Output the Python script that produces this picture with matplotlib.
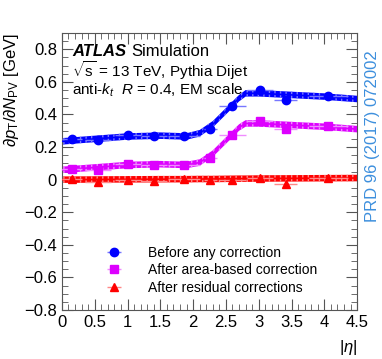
import matplotlib
matplotlib.use("Agg")
import matplotlib.pyplot as plt
from matplotlib.ticker import MultipleLocator, FuncFormatter

plt.rcParams['font.family'] = ['Liberation Sans', 'DejaVu Sans']
plt.rcParams['mathtext.fontset'] = 'custom'
plt.rcParams['mathtext.rm'] = 'Liberation Sans'
plt.rcParams['mathtext.it'] = 'Liberation Sans:italic'

# puntos medidos (|eta|, pendiente)
eta = [0.15, 0.55, 1.01, 1.40, 1.86, 2.26, 2.60, 3.02, 3.41, 4.06]
eta_err = [0.15, 0.2, 0.2, 0.2, 0.25, 0.1, 0.2, 0.2, 0.17, 0.3]
before = [0.250, 0.242, 0.277, 0.267, 0.271, 0.312, 0.455, 0.548, 0.488, 0.513]
area = [0.068, 0.057, 0.097, 0.088, 0.092, 0.133, 0.273, 0.359, 0.312, 0.328]
residual = [0.005, -0.014, 0.000, -0.008, 0.003, -0.002, 0.000, 0.012, -0.025, 0.008]

# bandas del ajuste
band_eta = [0.0, 0.5, 1.0, 1.5, 1.9, 2.1, 2.3, 2.5, 2.7, 2.8, 3.0, 3.5, 4.0, 4.5]
band_before = [0.235, 0.25, 0.265, 0.27, 0.265, 0.285, 0.34, 0.42, 0.50, 0.53, 0.53, 0.52, 0.51, 0.495]
band_area = [0.06, 0.075, 0.09, 0.095, 0.09, 0.105, 0.16, 0.24, 0.32, 0.345, 0.345, 0.335, 0.325, 0.31]
band_resid = [0.0, 0.001, 0.002, 0.003, 0.003, 0.004, 0.004, 0.005, 0.006, 0.006, 0.007, 0.008, 0.009, 0.01]
band_width = 0.02

series = [
    ("Before any correction", before, band_before, "#0000ff", "#7777ff", "o"),
    ("After area-based correction", area, band_area, "#dd00ff", "#f08cff", "s"),
    ("After residual corrections", residual, band_resid, "#ff0000", "#ff8888", "^"),
]

fig = plt.figure(figsize=(3.82, 3.59), dpi=100)
ax = fig.add_axes([0.162, 0.1365, 0.773, 0.7715])

for label, vals, band, col, light, mk in series:
    lo = [b - band_width for b in band]
    hi = [b + band_width for b in band]
    ax.fill_between(band_eta, lo, hi, facecolor=col, edgecolor=light,
                    hatch='|||', linewidth=0, zorder=2)
    ax.plot(band_eta, band, color=col, lw=1.2, zorder=3)
    ax.errorbar(eta, vals, xerr=eta_err, fmt=mk, color=col, ecolor=light,
                elinewidth=1.0, markersize=6, capsize=0, label=label, zorder=4)

ax.set_xlim(0, 4.5)
ax.set_ylim(-0.8, 0.9)
ax.xaxis.set_major_locator(MultipleLocator(0.5))
ax.xaxis.set_minor_locator(MultipleLocator(0.1))
ax.yaxis.set_major_locator(MultipleLocator(0.2))
ax.yaxis.set_minor_locator(MultipleLocator(0.05))


def fmt(v, pos):
    s = f"{v:.1f}".rstrip('0').rstrip('.')
    if s in ("-0", "0.0"):
        s = "0"
    return s.replace('-', '\u2212')


ax.xaxis.set_major_formatter(FuncFormatter(fmt))
ax.yaxis.set_major_formatter(FuncFormatter(fmt))
ax.tick_params(which='both', direction='in', top=True, right=True,
               labelsize=12, color='#555555')
ax.tick_params(which='major', length=8)
ax.tick_params(which='minor', length=4)
for sp in ax.spines.values():
    sp.set_color('#555555')

ax.set_xlabel(r'$|\eta|$', fontsize=12, loc='right', labelpad=6)
ax.set_ylabel(r'$\partial p_{\mathrm{T}}/\partial N_{\mathrm{PV}}$ [GeV]',
              fontsize=12, loc='top', labelpad=2)

ax.text(0.035, 0.935, 'ATLAS', transform=ax.transAxes, fontsize=12,
        fontweight='bold', fontstyle='italic', va='center')
ax.text(0.235, 0.935, 'Simulation', transform=ax.transAxes, fontsize=12, va='center')
ax.text(0.035, 0.865, r'$\sqrt{\mathrm{s}}$ = 13 TeV, Pythia Dijet',
        transform=ax.transAxes, fontsize=11, va='center')
ax.text(0.035, 0.792, r'anti-$k_{t}$  $R$ = 0.4, EM scale',
        transform=ax.transAxes, fontsize=11, va='center')

fig.text(0.975, 0.62, 'PRD 96 (2017) 072002', rotation=90, color='#3d8fdd',
         fontsize=12, ha='center', va='center')

ax.legend(loc='lower left', bbox_to_anchor=(0.06, 0.01), frameon=False,
          fontsize=10, handlelength=3.2, labelspacing=0.25, handletextpad=0.8)

fig.savefig('out.png', dpi=100)
